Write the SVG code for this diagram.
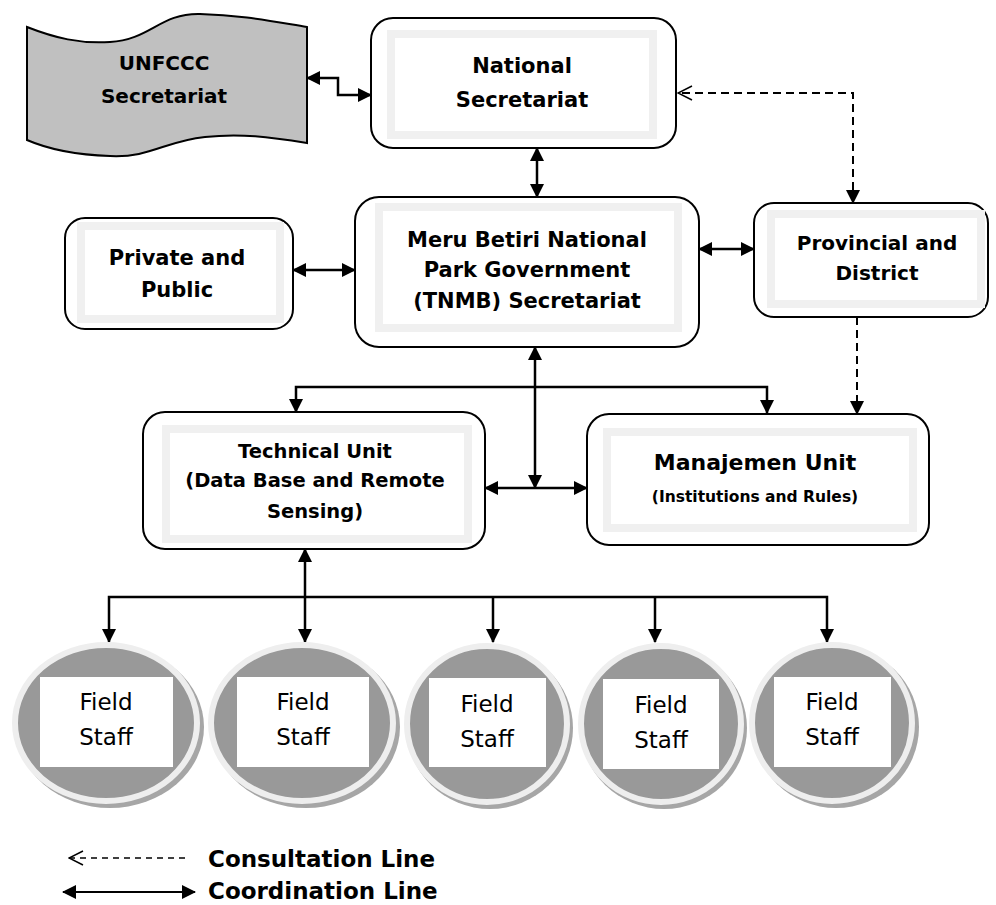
<svg xmlns="http://www.w3.org/2000/svg" width="996" height="905" viewBox="0 0 996 905">
<style>
.box{fill:#fff;stroke:#000;stroke-width:2}
.band{fill:none;stroke:#f0f0f0;stroke-width:8}
.t{font-family:"DejaVu Sans",sans-serif;font-weight:bold;font-size:21px;text-anchor:middle;fill:#000}
.f{font-family:"DejaVu Sans",sans-serif;font-size:23px;text-anchor:middle;fill:#000}
.c{fill:none;stroke:#000;stroke-width:2.5}
.d{fill:none;stroke:#000;stroke-width:2;stroke-dasharray:8 5}
.ring{fill:#999999;stroke:#eeeeee;stroke-width:6}
.sh{fill:#a6a6a6}
</style>
<defs>
<marker id="ah" viewBox="0 0 14 14" refX="13" refY="7" markerWidth="14" markerHeight="14" markerUnits="userSpaceOnUse" orient="auto-start-reverse">
<path d="M0,0 L14,7 L0,14 Z" fill="#000"/>
</marker>
<marker id="oh" viewBox="0 0 16 16" refX="15" refY="8" markerWidth="16" markerHeight="16" markerUnits="userSpaceOnUse" orient="auto-start-reverse">
<path d="M1,1 L15,8 L1,15" fill="none" stroke="#000" stroke-width="1.5"/>
</marker>
</defs>

<g id="connectors">
<path class="c" d="M307,78 L338,78 L338,95 L371,95" marker-start="url(#ah)" marker-end="url(#ah)"/>
<path class="c" d="M537,148 L537,197" marker-start="url(#ah)" marker-end="url(#ah)"/>
<path class="d" d="M853,203 L853,93 L678,93" marker-start="url(#ah)" marker-end="url(#oh)"/>
<path class="c" d="M293,270 L355,270" marker-start="url(#ah)" marker-end="url(#ah)"/>
<path class="c" d="M699,249 L754,249" marker-start="url(#ah)" marker-end="url(#ah)"/>
<path class="d" d="M857,317 L857,414" marker-end="url(#ah)"/>
<path class="c" d="M535,347 L535,488" marker-start="url(#ah)" marker-end="url(#ah)"/>
<path class="c" d="M485,488 L587,488" marker-start="url(#ah)" marker-end="url(#ah)"/>
<path class="c" d="M296,412 L296,387 L767,387 L767,413" marker-start="url(#ah)" marker-end="url(#ah)"/>
<path class="c" d="M305,549 L305,642" marker-start="url(#ah)" marker-end="url(#ah)"/>
<path class="c" d="M109,642 L109,597 L827,597 L827,642" marker-start="url(#ah)" marker-end="url(#ah)"/>
<path class="c" d="M493,597 L493,642" marker-end="url(#ah)"/>
<path class="c" d="M655,597 L655,642" marker-end="url(#ah)"/>
</g>

<g id="unfccc">
<path d="M27,27 C55,38 80,44 110,42 C150,40 160,13 200,14 C240,15 270,21 307,27 L307,143 C270,137 240,133 205,137 C165,141 150,158 110,156 C80,155 50,150 27,140 Z" fill="#c0c0c0" stroke="#000" stroke-width="2"/>
<text class="t" x="164" y="70" style="font-size:20px">UNFCCC</text>
<text class="t" x="164" y="103" style="font-size:20px">Secretariat</text>
</g>

<g id="national">
<rect class="box" x="371" y="18" width="305" height="130" rx="22"/>
<rect class="band" x="391" y="34" width="262" height="101"/>
<text class="t" x="522" y="73">National</text>
<text class="t" x="522" y="107">Secretariat</text>
</g>

<g id="private">
<rect class="box" x="65" y="218" width="228" height="111" rx="20"/>
<rect class="band" x="81" y="226" width="199" height="93"/>
<text class="t" x="177" y="265">Private and</text>
<text class="t" x="177" y="297">Public</text>
</g>

<g id="meru">
<rect class="box" x="355" y="197" width="344" height="150" rx="24"/>
<rect class="band" x="379" y="207" width="299" height="121"/>
<text class="t" x="527" y="247">Meru Betiri National</text>
<text class="t" x="527" y="277">Park Government</text>
<text class="t" x="527" y="308">(TNMB) Secretariat</text>
</g>

<g id="provincial">
<rect class="box" x="754" y="203" width="234" height="114" rx="20"/>
<rect class="band" x="771" y="214" width="210" height="90"/>
<text class="t" x="877" y="250" style="font-size:20px">Provincial and</text>
<text class="t" x="877" y="280" style="font-size:20px">District</text>
</g>

<g id="technical">
<rect class="box" x="143" y="412" width="342" height="137" rx="22"/>
<rect class="band" x="166" y="429" width="302" height="110"/>
<text class="t" x="315" y="458" style="font-size:19.5px">Technical Unit</text>
<text class="t" x="315" y="487" style="font-size:19.5px">(Data Base and Remote</text>
<text class="t" x="315" y="518" style="font-size:19.5px">Sensing)</text>
</g>

<g id="manajemen">
<rect class="box" x="587" y="414" width="342" height="131" rx="22"/>
<rect class="band" x="607" y="432" width="306" height="96"/>
<text class="t" x="755" y="470" style="font-size:22px">Manajemen Unit</text>
<text class="t" x="755" y="502" style="font-size:15.5px">(Institutions and Rules)</text>
</g>

<g id="field1">
<ellipse class="sh" cx="110" cy="727" rx="94" ry="81"/>
<ellipse class="ring" cx="106" cy="723" rx="91" ry="78"/>
<rect x="40" y="677" width="133" height="90" fill="#fff"/>
<text class="f" x="106" y="710">Field</text>
<text class="f" x="106" y="745">Staff</text>
</g>
<g id="field2">
<ellipse class="sh" cx="306" cy="727" rx="94" ry="81"/>
<ellipse class="ring" cx="302" cy="723" rx="91" ry="78"/>
<rect x="237" y="677" width="132" height="90" fill="#fff"/>
<text class="f" x="303" y="710">Field</text>
<text class="f" x="303" y="745">Staff</text>
</g>
<g id="field3">
<ellipse class="sh" cx="490" cy="728" rx="83" ry="81"/>
<ellipse class="ring" cx="487" cy="724" rx="80" ry="78"/>
<rect x="429" y="678" width="117" height="89" fill="#fff"/>
<text class="f" x="487" y="712">Field</text>
<text class="f" x="487" y="747">Staff</text>
</g>
<g id="field4">
<ellipse class="sh" cx="664" cy="728" rx="83" ry="81"/>
<ellipse class="ring" cx="661" cy="724" rx="80" ry="78"/>
<rect x="603" y="679" width="116" height="90" fill="#fff"/>
<text class="f" x="661" y="713">Field</text>
<text class="f" x="661" y="748">Staff</text>
</g>
<g id="field5">
<ellipse class="sh" cx="836" cy="727" rx="83" ry="81"/>
<ellipse class="ring" cx="832" cy="723" rx="80" ry="78"/>
<rect x="774" y="677" width="117" height="90" fill="#fff"/>
<text class="f" x="832" y="710">Field</text>
<text class="f" x="832" y="745">Staff</text>
</g>

<g id="legend">
<path d="M69,858 L187,858" fill="none" stroke="#000" stroke-width="1.3" stroke-dasharray="6 5" marker-start="url(#oh)"/>
<path d="M63,892 L195,892" fill="none" stroke="#000" stroke-width="2" marker-start="url(#ah)" marker-end="url(#ah)"/>
<text class="t" x="208" y="867" style="text-anchor:start;font-size:23px">Consultation Line</text>
<text class="t" x="208" y="899" style="text-anchor:start;font-size:23px">Coordination Line</text>
</g>
</svg>
